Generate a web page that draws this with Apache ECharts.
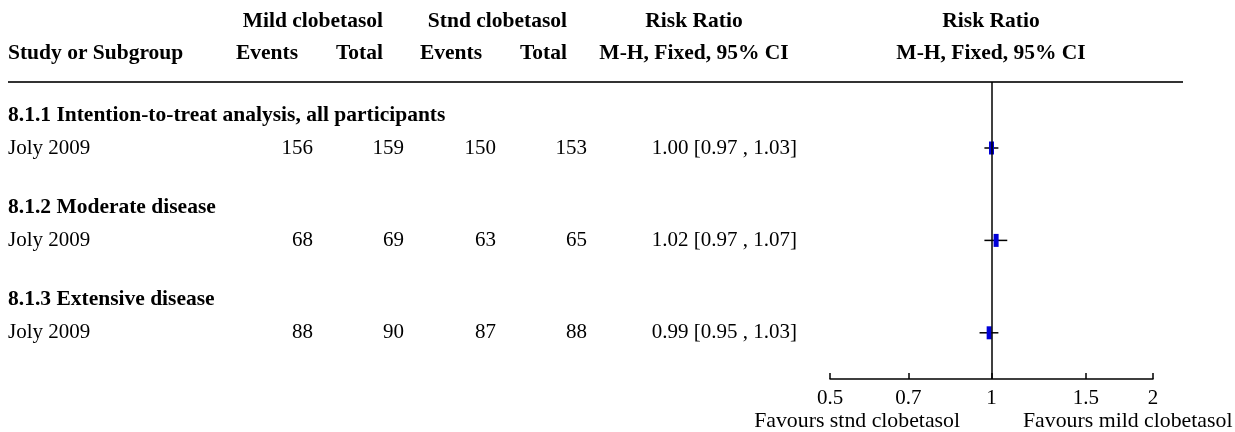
<!DOCTYPE html>
<html>
<head>
<meta charset="utf-8">
<script src="https://cdn.jsdelivr.net/npm/echarts@6/dist/echarts.min.js"></script>
<style>
  html, body { margin: 0; padding: 0; background: #fff; }
  #chart { width: 1235px; height: 432px; }
</style>
</head>
<body>
<div id="chart"></div>
<script>
// ---- data ----
const subgroups = ['8.1.1 Intention-to-treat analysis, all participants', '8.1.2 Moderate disease', '8.1.3 Extensive disease'];
const studies = ['Joly 2009', 'Joly 2009', 'Joly 2009'];
const mildEvents = [156, 68, 88];
const mildTotal = [159, 69, 90];
const stndEvents = [150, 63, 87];
const stndTotal = [153, 65, 88];
const riskRatio = [1.00, 1.02, 0.99];
const ciLow = [0.97, 0.97, 0.95];
const ciHigh = [1.03, 1.07, 1.03];
const tickValues = [0.5, 0.7, 1, 1.5, 2];
const tickLabels = ['0.5', '0.7', '1', '1.5', '2'];
const groupHeaders = ['Mild clobetasol', 'Stnd clobetasol', 'Risk Ratio', 'Risk Ratio'];
const colHeaders = ['Study or Subgroup', 'Events', 'Total', 'Events', 'Total', 'M-H, Fixed, 95% CI', 'M-H, Fixed, 95% CI'];
const favoursLabels = ['Favours stnd clobetasol', 'Favours mild clobetasol'];

// ---- layout ----
const FONT = 'Liberation Serif';
const FS = 21;
const FS_BOLD = 21.5;
const FS_FAV = 21.8;
const headingSlots = [1.0, 3.8, 6.6];
const studyOffset = 1.0;
const colRight = [313, 404, 496, 587, 797];
const plotLeft = 830, plotRightPx = 1153, plotTop = 82, plotBottom = 379;

const fmt = v => v.toFixed(2);

const tableData = [];
subgroups.forEach((s, i) => {
  tableData.push([0, headingSlots[i], i, 0]);
  tableData.push([0, headingSlots[i] + studyOffset, i, 1]);
});

const forestData = riskRatio.map((r, i) => [Math.log(r), headingSlots[i] + studyOffset, Math.log(ciLow[i]), Math.log(ciHigh[i])]);

const txt = (x, y, text, align, bold, size) => ({
  type: 'text', x: x, y: y, silent: true,
  style: { text: text, x: 0, y: 0, align: align, verticalAlign: 'middle',
           fill: '#000', fontFamily: FONT, fontSize: size || (bold ? FS_BOLD : FS), fontWeight: bold ? 'bold' : 'normal' }
});

const chart = echarts.init(document.getElementById('chart'), null, { renderer: 'canvas' });

const option = {
  animation: false,
  backgroundColor: '#fff',
  grid: [
    { left: 0, width: plotLeft, top: plotTop, height: plotBottom - plotTop },
    { left: plotLeft, width: plotRightPx - plotLeft, top: plotTop, height: plotBottom - plotTop }
  ],
  xAxis: [
    { gridIndex: 0, type: 'value', min: 0, max: plotLeft, show: false },
    {
      gridIndex: 1, type: 'value', min: Math.log(tickValues[0]), max: Math.log(tickValues[tickValues.length - 1]),
      position: 'bottom',
      splitLine: { show: false },
      axisLine: { show: true, onZero: false, lineStyle: { color: '#000', width: 1.5 } },
      axisTick: { show: true, inside: true, length: 6, lineStyle: { color: '#000', width: 1.5 },
                  customValues: tickValues.map(v => Math.log(v)) },
      axisLabel: {
        show: true, margin: 9, color: '#000', fontFamily: FONT, fontSize: FS,
        customValues: tickValues.map(v => Math.log(v)),
        formatter: function (v) {
          let best = 0;
          tickValues.forEach((t, k) => { if (Math.abs(Math.log(t) - v) < Math.abs(Math.log(tickValues[best]) - v)) best = k; });
          return tickLabels[best];
        }
      }
    }
  ],
  yAxis: [
    { gridIndex: 0, type: 'value', min: 0, max: 9, inverse: true, show: false },
    { gridIndex: 1, type: 'value', min: 0, max: 9, inverse: true, show: false }
  ],
  graphic: [
    txt(383, 21, groupHeaders[0], 'right', true),
    txt(567, 21, groupHeaders[1], 'right', true),
    txt(694, 21, groupHeaders[2], 'center', true),
    txt(991, 21, groupHeaders[3], 'center', true),
    txt(8, 53, colHeaders[0], 'left', true),
    txt(298, 53, colHeaders[1], 'right', true),
    txt(383, 53, colHeaders[2], 'right', true),
    txt(482, 53, colHeaders[3], 'right', true),
    txt(567, 53, colHeaders[4], 'right', true),
    txt(694, 53, colHeaders[5], 'center', true),
    txt(991, 53, colHeaders[6], 'center', true),
    { type: 'line', silent: true, shape: { x1: 8, y1: 82, x2: 1183, y2: 82 }, style: { stroke: '#333', lineWidth: 2 } },
    txt(960, 421, favoursLabels[0], 'right', false, FS_FAV),
    txt(1023, 421, favoursLabels[1], 'left', false, FS_FAV)
  ],
  series: [
    {
      type: 'custom', xAxisIndex: 0, yAxisIndex: 0, clip: false, silent: true,
      encode: { x: 0, y: 1 },
      data: tableData,
      renderItem: function (params, api) {
        const y = api.coord([0, api.value(1)])[1];
        const i = api.value(2);
        const kind = api.value(3);
        const mk = (x, text, align, bold) => ({
          type: 'text', style: { text: text, x: x, y: y, align: align, verticalAlign: 'middle',
            fill: '#000', fontFamily: FONT, fontSize: bold ? FS_BOLD : FS, fontWeight: bold ? 'bold' : 'normal' }
        });
        if (kind === 0) {
          return { type: 'group', children: [mk(8, subgroups[i], 'left', true)] };
        }
        return {
          type: 'group', children: [
            mk(8, studies[i], 'left', false),
            mk(colRight[0], String(mildEvents[i]), 'right', false),
            mk(colRight[1], String(mildTotal[i]), 'right', false),
            mk(colRight[2], String(stndEvents[i]), 'right', false),
            mk(colRight[3], String(stndTotal[i]), 'right', false),
            mk(colRight[4], fmt(riskRatio[i]) + ' [' + fmt(ciLow[i]) + ' , ' + fmt(ciHigh[i]) + ']', 'right', false)
          ]
        };
      }
    },
    {
      type: 'custom', xAxisIndex: 1, yAxisIndex: 1, clip: false, silent: true,
      encode: { x: 0, y: 1 },
      data: forestData,
      renderItem: function (params, api) {
        const yv = api.value(1);
        const c = api.coord([api.value(0), yv]);
        const lo = api.coord([api.value(2), yv]);
        const hi = api.coord([api.value(3), yv]);
        return {
          type: 'group', children: [
            { type: 'line', shape: { x1: lo[0], y1: c[1], x2: hi[0], y2: c[1] }, style: { stroke: '#000', lineWidth: 1.5 } },
            { type: 'rect', shape: { x: c[0] - 2.5, y: c[1] - 6.5, width: 5, height: 13 }, style: { fill: '#0000d8' } }
          ]
        };
      },
      markLine: {
        silent: true, symbol: ['none', 'none'], animation: false,
        label: { show: false },
        lineStyle: { color: '#000', width: 1.5, type: 'solid' },
        data: [{ xAxis: 0 }]
      },
      z: 3
    }
  ]
};

chart.setOption(option);
</script>
</body>
</html>
